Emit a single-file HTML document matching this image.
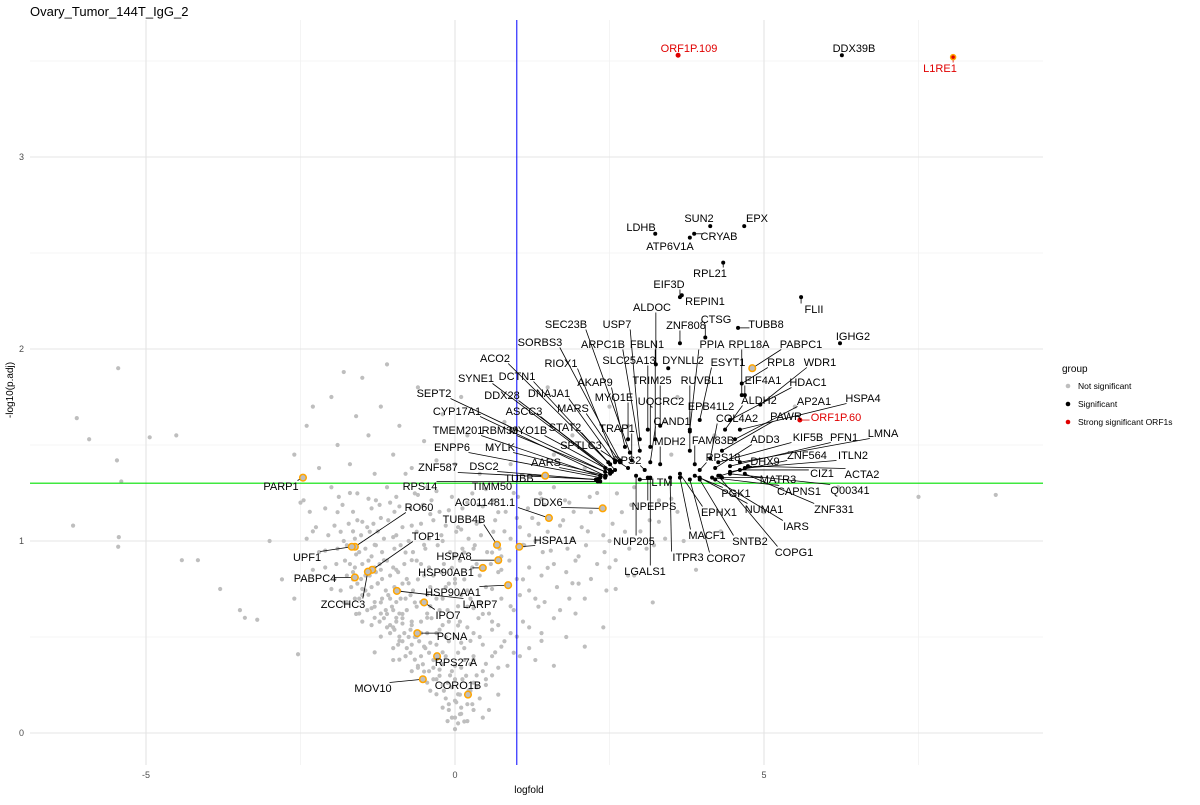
<!DOCTYPE html>
<html><head><meta charset="utf-8"><style>
body{margin:0;background:#fff;}
svg{font-family:"Liberation Sans",Arial,sans-serif;}
</style></head><body>
<svg id="chart" width="1200" height="800" viewBox="0 0 1200 800">
<text x="30" y="16" font-size="13" fill="#000">Ovary_Tumor_144T_IgG_2</text>
<g id="grid"></g>
<g id="grey"></g>
<g id="refs"></g>
<g id="labs"></g>
<g id="axes"></g>
<text x="529" y="793" font-size="10" text-anchor="middle" fill="#000">logfold</text>
<text transform="translate(13,390) rotate(-90)" font-size="10" text-anchor="middle" fill="#000">-log10(p.adj)</text>
<g>
<text x="1062" y="372" font-size="10" fill="#000">group</text>
<g><circle cx="1068" cy="386" r="2.3" fill="#bebebe"/><text x="1078" y="389" font-size="8.5" fill="#000">Not significant</text></g>
<g><circle cx="1068" cy="404" r="2.3" fill="#000"/><text x="1078" y="407" font-size="8.5" fill="#000">Significant</text></g>
<g><circle cx="1068" cy="422" r="2.3" fill="#e00000"/><text x="1078" y="425" font-size="8.5" fill="#000">Strong significant ORF1s</text></g>
</g>
</svg>
<script>
const xTicks=[-5,0,5];
const yTicks=[0,1,2,3];
const xMinor=[-2.5,2.5,7.5];
const yMinor=[0.5,1.5,2.5,3.5];
const fcCut=[1];
const padjCut=[1.301];
const greyPts=[[0,0.02],[0.05,0.05],[-0.05,0.08],[0.1,0.1],[-0.1,0.12],[0.15,0.06],[0.2,0.15],[-0.15,0.18],[0.25,0.22],[-0.2,0.25],[0.3,0.12],[0.08,0.2],[-0.3,0.28],[0.35,0.3],[0.4,0.18],[0.5,0.25],[-0.4,0.22],[0.6,0.3],[0.12,0.28],[-0.08,0.3],[0.02,0.16],[0.45,0.08],[0.7,0.2],[-0.5,0.32],[0.55,0.12],
[-1.1,0.55],[-0.9,0.48],[-0.8,0.4],[-0.7,0.58],[-0.6,0.35],[-0.5,0.45],[-0.45,0.6],[-0.35,0.38],[-0.3,0.52],[-0.2,0.42],[-0.1,0.58],[0,0.35],[0.1,0.47],[0.2,0.55],[0.3,0.4],[0.4,0.5],[0.5,0.36],[0.6,0.58],[0.75,0.45],[0.9,0.52],[1.05,0.4],[1.2,0.55],[1.4,0.48],[1.6,0.35],[1.8,0.5],[-1.3,0.42],[-1.5,0.58],[-0.65,0.5],[-0.25,0.33],[0.15,0.38],[0.65,0.42],[-0.85,0.57],[-0.55,0.52],[-0.4,0.47],[-0.15,0.5],[0.05,0.56],[0.25,0.48],[0.85,0.35],[1.3,0.38],[-1.0,0.38],[2.1,0.45],[2.4,0.55],[-3.4,0.6],[-3.2,0.59],[-3.48,0.64],[-2.54,0.41],
[-2.0,0.75],[-1.8,0.68],[-1.7,0.88],[-1.55,0.7],[-1.45,0.82],[-1.35,0.65],[-1.25,0.78],[-1.15,0.9],[-1.05,0.7],[-0.95,0.85],[-0.85,0.62],[-0.75,0.78],[-0.65,0.68],[-0.55,0.88],[-0.45,0.72],[-0.35,0.82],[-0.25,0.64],[-0.15,0.76],[-0.05,0.86],[0.05,0.66],[0.15,0.8],[0.25,0.7],[0.35,0.88],[0.45,0.62],[0.6,0.75],[0.75,0.85],[0.9,0.66],[1.1,0.8],[1.3,0.7],[1.5,0.86],[1.7,0.64],[1.9,0.78],[2.1,0.7],[2.3,0.88],[2.6,0.75],[2.9,0.82],[3.2,0.68],[-1.6,0.62],[-1.2,0.85],[-0.9,0.74],[-0.6,0.8],[-0.3,0.7],[0,0.78],[0.3,0.65],[-1.4,0.72],[-1.0,0.64],[-0.7,0.9],[-0.4,0.66],[-2.3,0.85],[-2.6,0.7],[-1.3,0.6],[-1.1,0.62],[-0.95,0.6],[-1.2,0.68],[-1.5,0.75],[-1.65,0.8],[-0.8,0.7],[-1.0,0.55],[-0.75,0.5],
[-2.5,1.2],[-2.3,1.05],[-2.1,0.95],[-1.9,1.15],[-1.8,1.0],[-1.7,1.25],[-1.6,0.93],[-1.5,1.1],[-1.4,1.22],[-1.3,0.98],[-1.2,1.12],[-1.1,1.28],[-1.0,1.02],[-0.9,1.18],[-0.8,0.94],[-0.7,1.08],[-0.6,1.24],[-0.5,0.98],[-0.4,1.14],[-0.3,1.26],[-0.2,1.0],[-0.1,1.16],[0,0.92],[0.1,1.06],[0.2,1.2],[0.3,0.96],[0.4,1.1],[0.5,1.27],[0.6,0.94],[0.7,1.15],[0.8,1.05],[0.95,1.25],[1.1,0.98],[1.25,1.12],[1.4,1.22],[1.55,0.95],[1.7,1.08],[1.85,1.2],[2.0,0.92],[2.15,1.05],[2.3,1.25],[2.5,1.0],[2.7,1.15],[2.9,1.28],[3.1,0.96],[3.3,1.1],[3.5,1.22],[3.7,1.0],[-1.65,1.05],[-1.35,0.92],[-1.05,1.2],[-0.75,1.0],[-0.45,1.28],[-0.15,1.08],[0.15,0.94],[0.45,1.18],[0.75,0.92],[1.0,1.12],[1.3,1.0],[1.6,1.28],[2.2,1.15],[2.6,0.9],[3.0,1.05],[-2.0,1.28],[-1.95,1.08],[-1.25,1.05],
[-2.6,1.45],[-2.4,1.6],[-2.2,1.38],[-2.0,1.75],[-1.9,1.5],[-1.7,1.4],[-1.6,1.65],[-1.5,1.85],[-1.4,1.55],[-1.3,1.35],[-1.2,1.7],[-1.0,1.45],[-0.9,1.6],[-0.7,1.38],[-0.6,1.8],[-0.5,1.52],[-0.3,1.42],[-0.2,1.66],[0,1.4],[0.2,1.55],[0.4,1.35],[0.6,1.48],[0.8,1.62],[0.9,1.4],[-1.8,1.88],[-2.3,1.7],[-0.8,1.35],[0.1,1.75],[-1.1,1.92],
[2.2,1.5],[2.8,1.6],[3.5,1.45],[4.2,1.55],[5.5,1.7],[1.5,1.8],[-5.45,1.9],[-6.12,1.64],[-5.92,1.53],[-4.94,1.54],[-4.51,1.55],[-5.47,1.42],[-5.4,1.31],[-6.18,1.08],[-5.44,1.02],[-5.45,0.97],[-4.42,0.9],[-4.16,0.9],[-3.8,0.75],[8.75,1.24],[7.5,1.23],[6.2,1.28],[5.0,1.15],[4.3,1.05],[3.9,0.85],[-3.0,1.0],[-2.8,0.8],
[1.6,1.45],[1.9,1.55],[2.1,1.38],[3.4,1.62],[3.6,1.75],[5.2,1.3],[2.5,1.7]];
// extra cloud, rows of estimated values: row y level and x values in that row
const rowY=[0.96,1.03,1.09,1.17,1.23,0.88,0.82,0.76,0.7,0.64,0.58,0.52,0.46,0.4,0.34,0.28,0.22,0.15,0.08];
const rowX=[[-2.2,-1.9,-1.75,-1.55,-1.45,-1.28,-1.18,-0.98,-0.88,-0.68,-0.48,-0.28,-0.08,0.12,0.32,0.52,0.72,1.12,1.42,1.82,2.12,2.42,2.82,3.22],
[-2.4,-2.05,-1.85,-1.62,-1.52,-1.38,-1.15,-0.95,-0.62,-0.42,-0.22,0.02,0.22,0.42,0.62,0.9,1.2,1.5,1.9,2.4,2.75,3.4],
[-2.25,-1.72,-1.58,-1.42,-1.32,-1.08,-0.85,-0.55,-0.35,0.05,0.35,0.65,1.05,1.35,1.75,2.05,2.55,3.15],
[-2.35,-2.1,-1.82,-1.65,-1.35,-1.22,-0.98,-0.72,-0.52,-0.25,0.12,0.38,0.82,1.18,1.45,1.92,2.4,2.85,3.6],
[-2.45,-1.88,-1.58,-1.28,-0.95,-0.65,-0.38,-0.05,0.28,0.62,1.02,1.38,1.78,2.18,2.62,3.3],
[-2.1,-1.92,-1.78,-1.62,-1.5,-1.4,-1.3,-1.22,-1.1,-1.0,-0.82,-0.62,-0.42,-0.18,0.08,0.28,0.58,0.88,1.2,1.6,1.95,2.5],
[-1.95,-1.75,-1.65,-1.52,-1.38,-1.28,-1.18,-1.05,-0.92,-0.78,-0.5,-0.22,0.0,0.4,0.7,1.0,1.4,1.8,2.2,2.8],
[-1.85,-1.68,-1.58,-1.45,-1.35,-1.25,-1.12,-0.98,-0.85,-0.68,-0.4,-0.1,0.2,0.5,0.85,1.2,1.65,2.0,2.45],
[-1.75,-1.62,-1.5,-1.3,-1.18,-1.08,-0.95,-0.88,-0.72,-0.55,-0.2,0.1,0.4,0.75,1.05,1.45,1.85],
[-1.55,-1.42,-1.3,-1.2,-1.12,-1.02,-0.9,-0.78,-0.62,-0.45,-0.12,0.2,0.55,0.95,1.35,1.95],
[-1.35,-1.22,-1.15,-1.05,-0.95,-0.85,-0.7,-0.55,-0.38,-0.2,0.08,0.38,0.7,1.1,1.6],
[-1.2,-1.05,-0.98,-0.9,-0.82,-0.72,-0.62,-0.45,-0.25,0.0,0.3,0.6,1.0,1.4],
[-1.0,-0.92,-0.85,-0.78,-0.7,-0.58,-0.48,-0.3,-0.1,0.15,0.45,0.8,1.2],
[-0.9,-0.8,-0.72,-0.65,-0.55,-0.42,-0.3,-0.15,0.05,0.3,0.6,0.95],
[-0.7,-0.6,-0.52,-0.42,-0.35,-0.2,-0.05,0.1,0.25,0.45,0.7],
[-0.45,-0.35,-0.25,-0.12,0.0,0.18,0.3,0.5],
[-0.3,-0.18,-0.05,0.05,0.22,0.35],
[-0.2,-0.1,0.0,0.1,0.28],
[-0.12,0.0,0.08,0.2]];
const geneNames=["ORF1P.109","DDX39B","L1RE1","LDHB","SUN2","EPX","CRYAB","ATP6V1A","RPL21","EIF3D","FLII","REPIN1","ALDOC","ZNF808","CTSG","TUBB8","IGHG2","USP7","SEC23B","SORBS3","ARPC1B","FBLN1","PPIA","RPL18A","PABPC1","RIOX1","SLC25A13","DYNLL2","ESYT1","RPL8","WDR1","ACO2","DCTN1","SYNE1","TRIM25","RUVBL1","EIF4A1","HDAC1","AKAP9","DNAJA1","DDX28","SEPT2","MYO1E","UQCRC2","ALDH2","HSPA4","EPB41L2","AP2A1","MARS","ASCC3","CYP17A1","PAWR","ORF1P.60","CAND1","COL4A2","TRAP1","STAT2","TMEM201","RBM39","MYO1B","LMNA","KIF5B","PFN1","MDH2","FAM83B","ADD3","ENPP6","MYLK","SPTLC3","ZNF564","ITLN2","RPS2","RPS18","DHX9","AARS","ZNF587","DSC2","CIZ1","ACTA2","TUBB","MATR3","RPS14","TIMM50","LTM","CAPNS1","Q00341","PGK1","NPEPPS","EPHX1","NUMA1","ZNF331","NUP205","SNTB2","MACF1","IARS","CORO7","ITPR3","COPG1","LGALS1",
"PARP1","AC011481.1","DDX6","RO60","TUBB4B","HSPA1A","TOP1","UPF1","HSPA8","PABPC4","HSP90AB1","ZCCHC3","HSP90AA1","LARP7","IPO7","PCNA","RPS27A","MOV10","CORO1B"];
const geneFC=[3.61,6.26,8.06,3.24,4.13,4.68,3.87,3.80,4.34,3.64,5.60,3.67,3.25,3.64,4.05,4.58,6.23,2.99,2.83,2.67,2.99,3.24,3.80,4.64,4.81,2.59,3.12,3.45,3.96,4.64,4.94,2.51,2.48,2.43,3.32,3.80,4.69,4.45,2.75,2.59,2.51,2.43,2.80,3.16,4.37,4.61,3.80,4.53,2.67,2.51,2.43,4.32,5.58,3.16,4.13,2.86,2.59,2.43,2.51,2.54,4.61,4.26,4.45,3.32,3.88,4.21,2.35,2.44,2.80,4.45,4.69,3.07,3.96,4.29,2.35,2.31,2.28,4.61,4.74,1.46,4.32,2.35,2.31,2.99,4.16,4.45,3.88,3.12,3.64,3.96,4.69,2.93,3.96,3.64,4.21,3.80,3.48,4.26,3.16,
-2.46,1.52,2.39,-1.62,0.68,1.04,-1.34,-1.67,0.70,-1.62,0.45,-1.41,0.86,-0.94,-0.50,-0.61,-0.29,-0.52,0.21];
const genePadj=[3.53,3.53,3.52,2.60,2.64,2.64,2.60,2.58,2.45,2.27,2.27,2.28,1.92,2.03,2.06,2.11,2.03,1.53,1.46,1.42,1.47,1.53,1.58,1.76,1.90,1.42,1.58,1.90,1.63,1.82,1.71,1.40,1.41,1.38,1.60,1.57,1.76,1.63,1.49,1.41,1.37,1.36,1.53,1.49,1.58,1.58,1.47,1.53,1.41,1.36,1.34,1.47,1.63,1.41,1.43,1.42,1.37,1.33,1.35,1.36,1.41,1.41,1.39,1.40,1.40,1.38,1.33,1.34,1.38,1.36,1.38,1.37,1.37,1.34,1.34,1.32,1.32,1.37,1.39,1.34,1.33,1.31,1.31,1.32,1.33,1.35,1.34,1.33,1.35,1.33,1.35,1.34,1.32,1.33,1.32,1.32,1.33,1.34,1.33,
1.33,1.12,1.17,0.97,0.98,0.97,0.85,0.97,0.90,0.81,0.86,0.84,0.77,0.74,0.68,0.52,0.40,0.28,0.20];
const geneGroup=["strong","sig","strong","sig","sig","sig","sig","sig","sig","sig","sig","sig","sig","sig","sig","sig","sig","sig","sig","sig","sig","sig","sig","sig","hl","sig","sig","sig","sig","sig","sig","sig","sig","sig","sig","sig","sig","sig","sig","sig","sig","sig","sig","sig","sig","sig","sig","sig","sig","sig","sig","sig","strong","sig","sig","sig","sig","sig","sig","sig","sig","sig","sig","sig","sig","sig","sig","sig","sig","sig","sig","sig","sig","sig","sig","sig","sig","sig","sig","hl","sig","sig","sig","sig","sig","sig","sig","sig","sig","sig","sig","sig","sig","sig","sig","sig","sig","sig","sig",
"hl","hl","hl","hl","hl","hl","hl","hl","hl","hl","hl","hl","hl","hl","hl","hl","hl","hl","hl"];
// label placement (pixel layout, not data)
const labelPos=[[689,48],[854,48],[940,68],[641,227],[699,218],[757,218],[719,236],[670,246],[710,273],[669,284],[814,309],[705,301],[652,307],[686,325],[716,319],[766,324],[853,336],[617,324],[566,324],[540,342],[603,344],[647,344],[712,344],[749,344],[801,344],[561,363],[629,360],[683,360],[728,362],[781,362],[820,362],[495,358],[517,376],[476,378],[652,380],[702,380],[763,380],[808,382],[595,382],[549,393],[502,395],[434,393],[614,397],[661,401],[759,400],[863,398],[711,406],[814,401],[573,408],[524,411],[457,411],[786,416],[836,417],[672,421],[737,418],[617,428],[565,427],[458,430],[500,430],[528,430],[883,433],[808,437],[844,437],[670,441],[713,440],[765,439],[452,447],[500,447],[581,445],[807,455],[853,455],[627,460],[723,457],[765,461],[546,462],[438,467],[484,466],[822,473],[862,474],[519,478],[778,479],[420,486],[492,486],[662,482],[799,491],[850,490],[736,493],[654,506],[719,512],[764,509],[834,509],[634,541],[750,541],[707,535],[796,526],[726,558],[688,557],[794,552],[645,571],
[281,486],[485,502],[548,502],[419,507],[464,519],[555,540],[426,536],[307,557],[454,556],[315,578],[446,572],[343,604],[453,592],[480,604],[448,615],[452,636],[456,662],[373,688],[458,685]];

const NS='http://www.w3.org/2000/svg';
const X0=455,XS=61.8,Y0=733,YS=192;
const L=30,R=1043,T=20,B=765;
function sx(v){return X0+v*XS;}
function sy(v){return Y0-v*YS;}
function mk(tag,attrs,parent){const e=document.createElementNS(NS,tag);for(const k in attrs)e.setAttribute(k,attrs[k]);parent.appendChild(e);return e;}
const grid=document.getElementById('grid');
xMinor.forEach(v=>{const l=mk('line',{x1:sx(v),x2:sx(v),y1:T,y2:B,stroke:'#f2f2f2','stroke-width':0.8},grid);

});
yMinor.forEach(v=>{const l=mk('line',{x1:L,x2:R,y1:sy(v),y2:sy(v),stroke:'#f2f2f2','stroke-width':0.8},grid);

});
xTicks.forEach(v=>{const l=mk('line',{x1:sx(v),x2:sx(v),y1:T,y2:B,stroke:'#e4e4e4','stroke-width':1.1},grid);

});
yTicks.forEach(v=>{const l=mk('line',{x1:L,x2:R,y1:sy(v),y2:sy(v),stroke:'#e4e4e4','stroke-width':1.1},grid);

});
const axes=document.getElementById('axes');
xTicks.forEach(v=>{const t=mk('text',{x:sx(v),y:778,'font-size':9,'text-anchor':'middle',fill:'#4d4d4d'},axes);t.textContent=v;

});
yTicks.forEach(v=>{const t=mk('text',{x:24,y:sy(v)+3,'font-size':9,'text-anchor':'end',fill:'#4d4d4d'},axes);t.textContent=v;

});
const grey=document.getElementById('grey');
function greyDot(x,y){const c=mk('circle',{cx:sx(x),cy:sy(y),r:2.1,fill:'#bebebe'},grey);

}
greyPts.forEach(p=>greyDot(p[0],p[1]));
rowY.forEach((y,i)=>rowX[i].forEach((x,j)=>greyDot(x,y+((j%3)-1)*0.018)));
const refs=document.getElementById('refs');
fcCut.forEach(v=>{const l=mk('line',{x1:sx(v),x2:sx(v),y1:T,y2:B,stroke:'#0000ff','stroke-width':1},refs);

});
padjCut.forEach(v=>{const l=mk('line',{x1:L,x2:R,y1:sy(v),y2:sy(v),stroke:'#00e000','stroke-width':1.2},refs);

});
const labs=document.getElementById('labs');
const segG=mk('g',{},labs),ptG=mk('g',{},labs),txG=mk('g',{},labs);
geneNames.forEach((n,i)=>{
  const px=sx(geneFC[i]),py=sy(genePadj[i]);const [lx,ly]=labelPos[i];
  const w=n.length*6.6,h=11;
  const ex=Math.max(lx-w/2,Math.min(px,lx+w/2)),ey=Math.max(ly-h/2,Math.min(py,ly+h/2));
  const g=geneGroup[i];
  if(Math.hypot(ex-px,ey-py)>4){const s=mk('line',{x1:px,y1:py,x2:ex,y2:ey,stroke:g==='strong'?'#e00000':'#000','stroke-width':0.8},segG);
  
  }
  let c;
  if(g==='hl'){c=mk('circle',{cx:px,cy:py,r:3.3,fill:'#bebebe',stroke:'#ffa500','stroke-width':1.5},ptG);}
  else if(g==='strong'){c=mk('circle',{cx:px,cy:py,r:2.5,fill:'#e00000',stroke:n==='L1RE1'?'#ffa500':'none','stroke-width':1.5},ptG);}
  else{c=mk('circle',{cx:px,cy:py,r:2,fill:'#000'},ptG);}
  
  
  const t=mk('text',{x:lx,y:ly+4,'font-size':11,'text-anchor':'middle',fill:g==='strong'?'#e00000':'#000'},txG);
  t.textContent=n;
  
  
});
</script>
</body></html>
